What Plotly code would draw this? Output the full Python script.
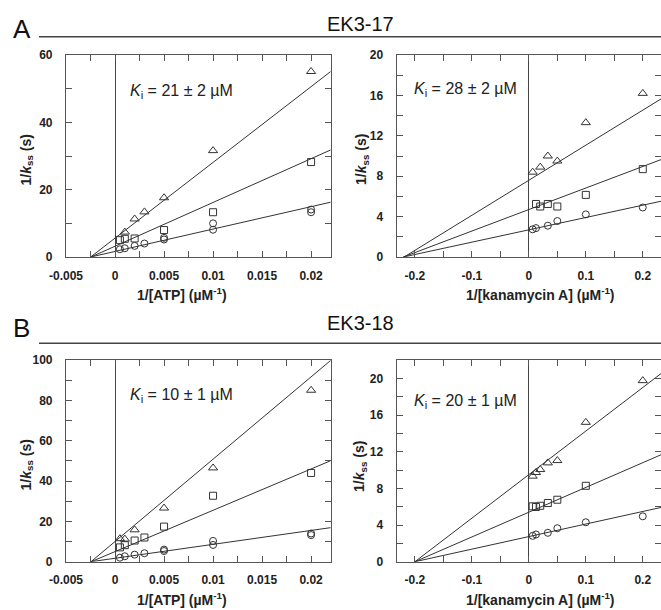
import plotly.graph_objects as go

W, H = 661, 610

# ---------------- data ----------------
# Panel A, ATP (1/[ATP], 1/kss)
A_atp_circ_x = [0.0005, 0.001, 0.002, 0.003, 0.005, 0.005, 0.01, 0.01, 0.02, 0.02]
A_atp_circ_y = [2.3, 2.6, 3.3, 4.0, 5.2, 5.7, 8.1, 10.0, 13.3, 14.1]
A_atp_sq_x = [0.0005, 0.001, 0.002, 0.005, 0.01, 0.02]
A_atp_sq_y = [5.0, 5.4, 5.5, 8.0, 13.3, 28.2]
A_atp_tri_x = [0.001, 0.002, 0.003, 0.005, 0.01, 0.02]
A_atp_tri_y = [7.4, 11.3, 13.4, 17.6, 31.6, 55.1]
A_atp_fit_slope = [665, 1300, 2250]
A_atp_fit_icpt = [1.65, 3.2, 5.6]

# Panel A, kanamycin A
A_kan_circ_x = [0.00667, 0.0125, 0.0333, 0.05, 0.1, 0.2]
A_kan_circ_y = [2.74, 2.86, 3.1, 3.56, 4.22, 4.9]
A_kan_sq_x = [0.0125, 0.02, 0.0333, 0.05, 0.1, 0.2]
A_kan_sq_y = [5.25, 5.0, 5.25, 5.0, 6.15, 8.7]
A_kan_tri_x = [0.00667, 0.02, 0.0333, 0.05, 0.1, 0.2]
A_kan_tri_y = [8.4, 8.9, 10.0, 9.5, 13.3, 16.2]
A_kan_fit_slope = [12.2, 21.3, 34.7]
A_kan_fit_icpt = [2.69, 4.7, 7.6]

# Panel B, ATP
B_atp_circ_x = [0.0005, 0.001, 0.002, 0.003, 0.005, 0.005, 0.01, 0.01, 0.02, 0.02]
B_atp_circ_y = [2.0, 2.7, 3.5, 4.2, 5.3, 6.0, 8.3, 10.3, 13.2, 14.0]
B_atp_sq_x = [0.0005, 0.001, 0.002, 0.003, 0.005, 0.01, 0.02]
B_atp_sq_y = [7.1, 8.2, 10.5, 12.0, 17.4, 32.7, 44.0]
B_atp_tri_x = [0.0005, 0.001, 0.002, 0.005, 0.01, 0.02]
B_atp_tri_y = [11.4, 11.2, 15.8, 26.6, 46.5, 85.0]
B_atp_fit_slope = [690, 2049, 4082]
B_atp_fit_icpt = [1.7, 5.0, 10.0]

# Panel B, kanamycin A
B_kan_circ_x = [0.00667, 0.0125, 0.0333, 0.05, 0.1, 0.2]
B_kan_circ_y = [2.82, 2.97, 3.15, 3.65, 4.3, 4.95]
B_kan_sq_x = [0.00667, 0.0125, 0.02, 0.0333, 0.05, 0.1]
B_kan_sq_y = [6.04, 5.97, 6.1, 6.4, 6.76, 8.28]
B_kan_tri_x = [0.00667, 0.0125, 0.02, 0.0333, 0.05, 0.1, 0.2]
B_kan_tri_y = [9.33, 9.73, 10.05, 10.78, 11.03, 15.2, 19.75]
B_kan_fit_slope = [13.7, 27.0, 47.5]
B_kan_fit_icpt = [2.74, 5.4, 9.5]

# ticks (labelled majors and unlabelled minors)
atp_tickvals = [-0.005, 0, 0.005, 0.01, 0.015, 0.02]
atp_ticktext = ["-0.005", "0", "0.005", "0.01", "0.015", "0.02"]
atp_minor = [-0.0025, 0.0025, 0.0075, 0.0125, 0.0175]
kan_tickvals = [-0.2, -0.1, 0, 0.1, 0.2]
kan_ticktext = ["-0.2", "-0.1", "0", "0.1", "0.2"]
kan_minor = [-0.15, -0.05, 0.05, 0.15]
yA_atp_vals = [0, 20, 40, 60]
yA_atp_minor = [10, 30, 50]
y_kan_vals = [0, 4, 8, 12, 16, 20]
y_kan_minor = [2, 6, 10, 14, 18]
yB_atp_vals = [0, 20, 40, 60, 80, 100]
yB_atp_minor = [10, 30, 50, 70, 90]

titles = ["EK3-17", "EK3-18"]
letters = ["A", "B"]
ki_texts = ["21 ± 2", "28 ± 2", "10 ± 1", "20 ± 1"]

# ---------------- layout helpers ----------------
def px(x):
    return x / W

def py(y):
    return 1 - y / H

INK = "#333333"
AX = "#555555"

fig = go.Figure()

panels = [
    dict(i=1, xr=[-0.005, 0.022], yr=[0, 60], xd=(66, 330.7), yd=(55, 257),
         xt=(atp_tickvals, atp_ticktext, atp_minor),
         yt=(yA_atp_vals, [str(v) for v in yA_atp_vals], yA_atp_minor),
         data=[(A_atp_circ_x, A_atp_circ_y, "circle-open"),
               (A_atp_sq_x, A_atp_sq_y, "square-open"),
               (A_atp_tri_x, A_atp_tri_y, "triangle-up-open")],
         fit=(A_atp_fit_slope, A_atp_fit_icpt)),
    dict(i=2, xr=[-0.232, 0.232], yr=[0, 20], xd=(396.7, 661), yd=(55, 257),
         xt=(kan_tickvals, kan_ticktext, kan_minor),
         yt=(y_kan_vals, [str(v) for v in y_kan_vals], y_kan_minor),
         data=[(A_kan_circ_x, A_kan_circ_y, "circle-open"),
               (A_kan_sq_x, A_kan_sq_y, "square-open"),
               (A_kan_tri_x, A_kan_tri_y, "triangle-up-open")],
         fit=(A_kan_fit_slope, A_kan_fit_icpt)),
    dict(i=3, xr=[-0.005, 0.022], yr=[0, 100], xd=(66, 330.7), yd=(360, 561.7),
         xt=(atp_tickvals, atp_ticktext, atp_minor),
         yt=(yB_atp_vals, [str(v) for v in yB_atp_vals], yB_atp_minor),
         data=[(B_atp_circ_x, B_atp_circ_y, "circle-open"),
               (B_atp_sq_x, B_atp_sq_y, "square-open"),
               (B_atp_tri_x, B_atp_tri_y, "triangle-up-open")],
         fit=(B_atp_fit_slope, B_atp_fit_icpt)),
    dict(i=4, xr=[-0.232, 0.232], yr=[0, 22], xd=(396.7, 661), yd=(360, 561.7),
         xt=(kan_tickvals, kan_ticktext, kan_minor),
         yt=(y_kan_vals, [str(v) for v in y_kan_vals], y_kan_minor),
         data=[(B_kan_circ_x, B_kan_circ_y, "circle-open"),
               (B_kan_sq_x, B_kan_sq_y, "square-open"),
               (B_kan_tri_x, B_kan_tri_y, "triangle-up-open")],
         fit=(B_kan_fit_slope, B_kan_fit_icpt)),
]

FONT = "Liberation Sans, Arial, sans-serif"
tickfont = dict(family=FONT, size=12, color="#222", weight="bold")

for p in panels:
    i = p["i"]
    xa = "x" if i == 1 else f"x{i}"
    ya = "y" if i == 1 else f"y{i}"
    slopes, icpts = p["fit"]
    for s, b in zip(slopes, icpts):
        x0 = -b / s
        x1 = p["xr"][1]
        fig.add_trace(go.Scatter(x=[x0, x1], y=[s * x0 + b, s * x1 + b], mode="lines",
                                 line=dict(color=INK, width=1), xaxis=xa, yaxis=ya,
                                 showlegend=False, hoverinfo="skip"))
    for xs, ys, sym in p["data"]:
        size = 8 if "triangle" in sym else 7
        fig.add_trace(go.Scatter(x=xs, y=ys, mode="markers",
                                 marker=dict(symbol=sym, size=size, color=INK,
                                             line=dict(width=1, color=INK)),
                                 xaxis=xa, yaxis=ya, showlegend=False, cliponaxis=False))
    xkey = "xaxis" if i == 1 else f"xaxis{i}"
    ykey = "yaxis" if i == 1 else f"yaxis{i}"
    common = dict(ticks="inside", ticklen=6, tickwidth=1, tickcolor=AX,
                  showline=True, linecolor=AX, linewidth=1.2, mirror="ticks",
                  showgrid=False, tickfont=tickfont, automargin=False, tickmode="array")
    fig.update_layout(**{
        xkey: dict(domain=[px(p["xd"][0]), px(p["xd"][1])], range=p["xr"], anchor=ya,
                   tickvals=p["xt"][0], ticktext=p["xt"][1],
                   minor=dict(tickvals=p["xt"][2], ticks="inside", ticklen=6, tickwidth=1,
                              tickcolor=AX, showgrid=False),
                   zeroline=True, zerolinecolor="#444", zerolinewidth=1,
                   ticklabelstandoff=7, **common),
        ykey: dict(domain=[py(p["yd"][1]), py(p["yd"][0])], range=p["yr"], anchor=xa,
                   tickvals=p["yt"][0], ticktext=p["yt"][1],
                   minor=dict(tickvals=p["yt"][2], ticks="inside", ticklen=6, tickwidth=1,
                              tickcolor=AX, showgrid=False),
                   zeroline=False, ticklabelstandoff=10, **common),
    })

ann = []
shapes = []
for k, (ytxt, yline) in enumerate([(29, 36.7), (328, 343.3)]):
    ann.append(dict(x=px(21.5), y=py(ytxt), xref="paper", yref="paper", text=letters[k],
                    showarrow=False, font=dict(family=FONT, size=26, color="#111"),
                    xanchor="center", yanchor="middle"))
    ann.append(dict(x=px(360), y=py(ytxt - 5), xref="paper", yref="paper", text=titles[k],
                    showarrow=False, font=dict(family=FONT, size=20, color="#111"),
                    xanchor="center", yanchor="middle"))
    shapes.append(dict(type="line", xref="paper", yref="paper", x0=px(39), x1=1.0,
                       y0=py(yline), y1=py(yline), line=dict(color="#444", width=1.5)))

for yx in [294, 599]:
    ann.append(dict(x=px(182.5), y=py(yx), xref="paper", yref="paper",
                    text="<b>1/[ATP] (µM<sup>-1</sup>)</b>", showarrow=False,
                    font=dict(family=FONT, size=14, color="#222"), xanchor="center", yanchor="middle"))
    ann.append(dict(x=px(540), y=py(yx), xref="paper", yref="paper",
                    text="<b>1/[kanamycin A] (µM<sup>-1</sup>)</b>", showarrow=False,
                    font=dict(family=FONT, size=14, color="#222"), xanchor="center", yanchor="middle"))

for xc, yc in [(26.5, 160), (362, 160), (26.5, 465), (360, 467)]:
    ann.append(dict(x=px(xc), y=py(yc), xref="paper", yref="paper",
                    text="<b>1/<i>k</i><sub>ss</sub> (s)</b>", showarrow=False, textangle=-90,
                    font=dict(family=FONT, size=14, color="#222"), xanchor="center", yanchor="middle"))

for (xl, yc), t in zip([(128, 91), (412, 90), (128, 395), (412, 401)], ki_texts):
    ann.append(dict(x=px(xl), y=py(yc), xref="paper", yref="paper",
                    text=f"<i>K</i><sub>i</sub> = {t} µM", showarrow=False,
                    font=dict(family=FONT, size=16, color="#222"), xanchor="left", yanchor="middle"))

fig.update_layout(width=W, height=H, margin=dict(l=0, r=0, t=0, b=0),
                  paper_bgcolor="white", plot_bgcolor="white", template="none",
                  annotations=ann, shapes=shapes, showlegend=False)

fig.write_html("out.html", config={"displayModeBar": False},
               post_script="document.body.style.margin='0';document.body.style.padding='0';")
